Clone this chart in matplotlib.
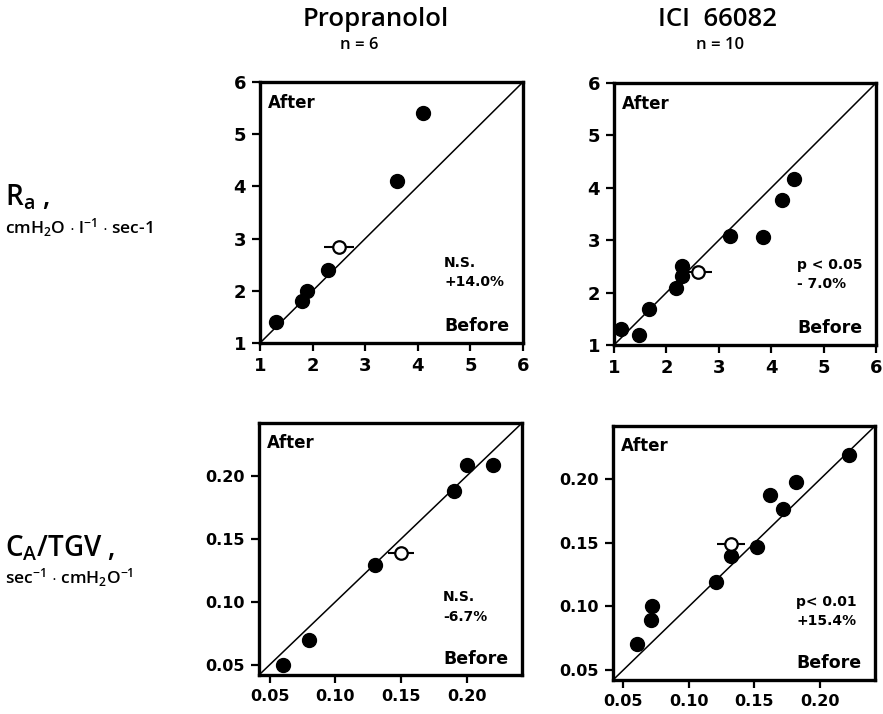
import matplotlib.pyplot as plt
import numpy as np

plt.rcParams['font.family'] = ['DejaVu Sans']
plt.rcParams['font.weight'] = 'bold'
plt.rcParams['mathtext.fontset'] = 'custom'
plt.rcParams['mathtext.rm'] = 'Open Sans:semibold'
plt.rcParams['mathtext.default'] = 'rm'

# Ra, Propranolol (before, after)
ra_prop_before = [1.3, 1.8, 1.9, 2.3, 3.6, 4.1]
ra_prop_after = [1.4, 1.8, 2.0, 2.4, 4.1, 5.4]
ra_prop_mean = (2.5, 2.83)
ra_prop_se = 0.28

# Ra, ICI 66082
ra_ici_before = [1.14, 1.48, 1.67, 2.18, 2.29, 2.29, 3.22, 3.85, 4.2, 4.44]
ra_ici_after = [1.3, 1.2, 1.69, 2.08, 2.51, 2.32, 3.08, 3.06, 3.77, 4.17]
ra_ici_mean = (2.6, 2.39)
ra_ici_se = 0.27

# CA/TGV, Propranolol
ca_prop_before = [0.06, 0.08, 0.13, 0.19, 0.20, 0.22]
ca_prop_after = [0.05, 0.07, 0.129, 0.188, 0.209, 0.209]
ca_prop_mean = (0.15, 0.139)
ca_prop_se = 0.01

# CA/TGV, ICI 66082
ca_ici_before = [0.06, 0.071, 0.072, 0.121, 0.132, 0.152, 0.162, 0.172, 0.182, 0.222]
ca_ici_after = [0.07, 0.089, 0.10, 0.119, 0.14, 0.147, 0.188, 0.177, 0.198, 0.219]
ca_ici_mean = (0.132, 0.149)
ca_ici_se = 0.0105

stats = ['N.S.\n+14.0%', 'p < 0.05\n- 7.0%', 'N.S.\n-6.7%', 'p< 0.01\n+15.4%']

fig = plt.figure(figsize=(8.83, 7.14), dpi=100)

rects = [
    [260 / 883, 1 - 343 / 714, 263 / 883, 261 / 714],
    [614 / 883, 1 - 345 / 714, 262 / 883, 262 / 714],
    [259 / 883, 1 - 675 / 714, 263 / 883, 252 / 714],
    [613 / 883, 1 - 680 / 714, 262 / 883, 254 / 714],
]
data = [
    (ra_prop_before, ra_prop_after, ra_prop_mean, ra_prop_se),
    (ra_ici_before, ra_ici_after, ra_ici_mean, ra_ici_se),
    (ca_prop_before, ca_prop_after, ca_prop_mean, ca_prop_se),
    (ca_ici_before, ca_ici_after, ca_ici_mean, ca_ici_se),
]

for i, (rect, (bx, ay, mean, se), st) in enumerate(zip(rects, data, stats)):
    ax = fig.add_axes(rect)
    if i < 2:
        lo, hi = 1, 6
        ticks = [1, 2, 3, 4, 5, 6]
        labels = ['1', '2', '3', '4', '5', '6']
        fs = 13
    else:
        lo, hi = 0.042, 0.242
        ticks = [0.05, 0.10, 0.15, 0.20]
        labels = ['0.05', '0.10', '0.15', '0.20']
        fs = 11.5
    ax.plot([lo, hi], [lo, hi], color='black', lw=1.1, zorder=1)
    ax.plot(bx, ay, 'o', color='black', ms=10, zorder=3)
    ax.errorbar(mean[0], mean[1], xerr=se, fmt='o', ms=9, mfc='white',
                mec='black', mew=1.6, ecolor='black', elinewidth=1.5,
                capsize=0, zorder=4)
    ax.set_xlim(lo, hi)
    ax.set_ylim(lo, hi)
    ax.set_xticks(ticks)
    ax.set_yticks(ticks)
    ax.set_xticklabels(labels, fontsize=fs, fontweight='bold')
    ax.set_yticklabels(labels, fontsize=fs, fontweight='bold')
    ax.tick_params(direction='out', length=6, width=1.6, pad=4)
    for s in ax.spines.values():
        s.set_linewidth(2.4)
    ax.text(0.03, 0.92, 'After', transform=ax.transAxes, fontsize=12,
            fontweight='bold', va='center', ha='left')
    ax.text(0.95, 0.065, 'Before', transform=ax.transAxes, fontsize=12.5,
            fontweight='bold', va='center', ha='right')
    ax.text(0.70, 0.27, st, transform=ax.transAxes, fontsize=10,
            fontweight='bold', va='center', ha='left', linespacing=1.5)

lab = dict(family=['Open Sans', 'DejaVu Sans'], fontweight='semibold')
fig.text(376 / 883, 1 - 20 / 714, 'Propranolol', fontsize=18.5,
         ha='center', va='center', **lab)
fig.text(359 / 883, 1 - 45 / 714, 'n = 6', fontsize=12,
         ha='center', va='center', **lab)
fig.text(718 / 883, 1 - 20 / 714, 'ICI  66082', fontsize=18.5,
         ha='center', va='center', **lab)
fig.text(720 / 883, 1 - 45 / 714, 'n = 10', fontsize=12,
         ha='center', va='center', **lab)

fig.text(5 / 883, 1 - 197 / 714, r'R$_a$ ,', fontsize=20,
         ha='left', va='center', **lab)
fig.text(5 / 883, 1 - 228 / 714, r'cmH$_2$O $\cdot$ l$^{-1}$ $\cdot$ sec-1',
         fontsize=12.5, ha='left', va='center', **lab)
fig.text(5 / 883, 1 - 548 / 714, r'C$_A$/TGV ,', fontsize=20,
         ha='left', va='center', **lab)
fig.text(5 / 883, 1 - 578 / 714, r'sec$^{-1}$ $\cdot$ cmH$_2$O$^{-1}$',
         fontsize=12.5, ha='left', va='center', **lab)

fig.savefig('out.png', dpi=100)
